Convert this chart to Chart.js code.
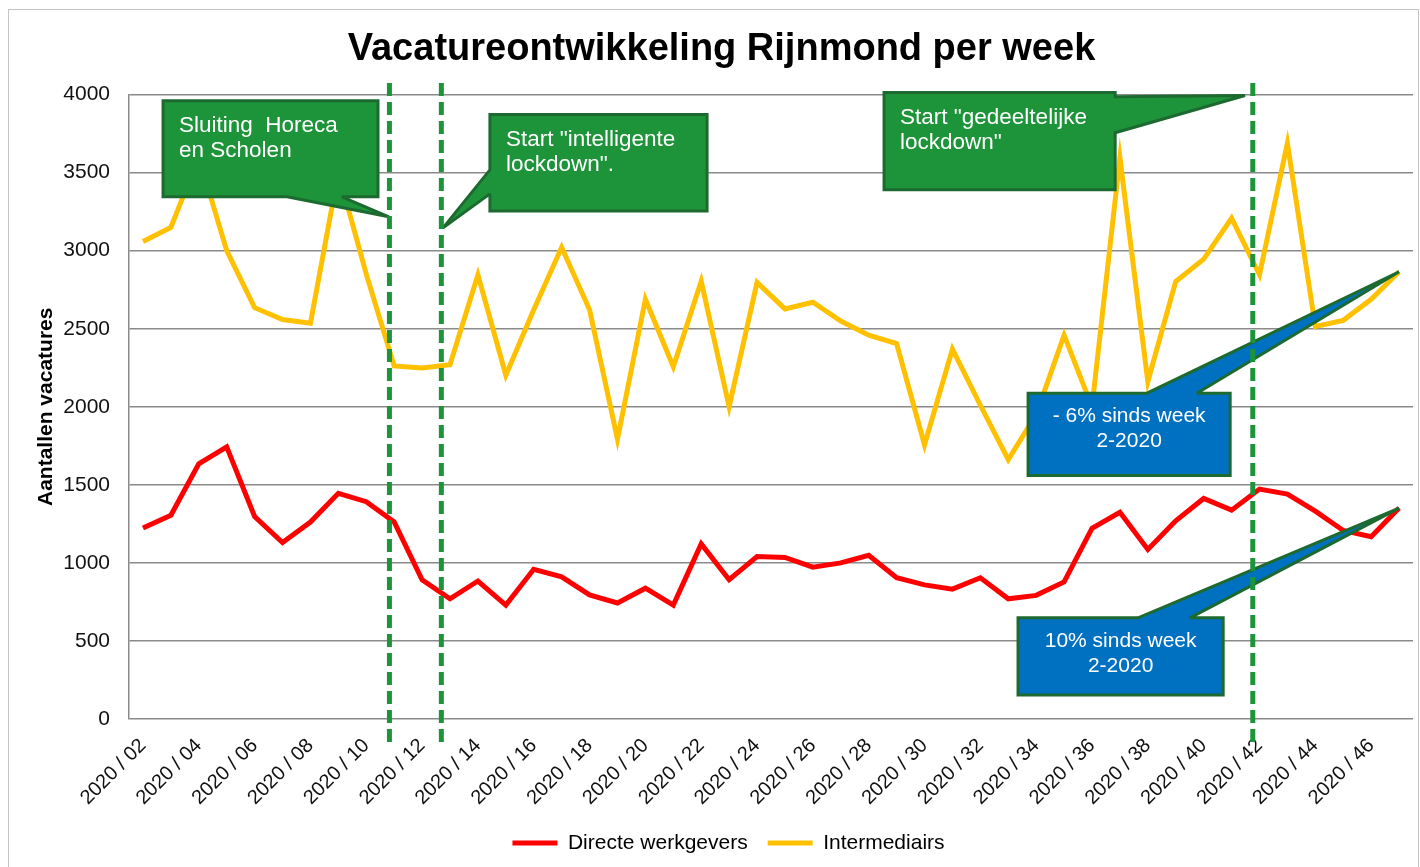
<!DOCTYPE html>
<html lang="nl">
<head>
    <meta charset="UTF-8">
    <title>Vacatureontwikkeling Rijnmond per week</title>
    <script src="https://cdn.jsdelivr.net/npm/chart.js"></script>
    <style>
        html, body { margin: 0; padding: 0; background: #fff; }
        #wrap { width: 1420px; height: 867px; }
    </style>
</head>
<body>
    <div id="wrap"><canvas id="vacChart" width="1420" height="867"></canvas></div>

    <script>
        // weeks 2020/02 t/m 2020/47
        var weeks = ['2020 / 02', '2020 / 03', '2020 / 04', '2020 / 05', '2020 / 06', '2020 / 07', '2020 / 08', '2020 / 09',
            '2020 / 10', '2020 / 11', '2020 / 12', '2020 / 13', '2020 / 14', '2020 / 15', '2020 / 16', '2020 / 17',
            '2020 / 18', '2020 / 19', '2020 / 20', '2020 / 21', '2020 / 22', '2020 / 23', '2020 / 24', '2020 / 25',
            '2020 / 26', '2020 / 27', '2020 / 28', '2020 / 29', '2020 / 30', '2020 / 31', '2020 / 32', '2020 / 33',
            '2020 / 34', '2020 / 35', '2020 / 36', '2020 / 37', '2020 / 38', '2020 / 39', '2020 / 40', '2020 / 41',
            '2020 / 42', '2020 / 43', '2020 / 44', '2020 / 45', '2020 / 46', '2020 / 47'];

        var directeWerkgevers = [1224, 1305, 1635, 1743, 1297, 1130, 1262, 1446, 1392, 1262,
            892, 770, 884, 730, 959, 911, 795, 743, 838, 730,
            1122, 892, 1041, 1035, 973, 1000, 1049, 905, 859, 832,
            905, 770, 792, 878, 1222, 1324, 1086, 1270, 1413, 1338,
            1473, 1441, 1332, 1208, 1168, 1351];

        var intermediairs = [3059, 3149, 3600, 3000, 2635, 2559, 2535, 3500, 2850, 2262,
            2249, 2270, 2846, 2203, 2622, 3022, 2622, 1792, 2689, 2257,
            2805, 2000, 2797, 2627, 2670, 2549, 2459, 2405, 1757, 2370,
            2010, 1662, 1950, 2459, 2000, 3595, 2162, 2803, 2946, 3208,
            2846, 3689, 2514, 2554, 2689, 2865];

        var yTicks = [0, 500, 1000, 1500, 2000, 2500, 3000, 3500, 4000];

        var FONT = "'Liberation Sans', Arial, sans-serif";
        var GREEN = '#1e943a';
        var DARK_GREEN = '#1d6a30';
        var BLUE = '#0070c0';

        // maatregelen (week als decimaal, want de lijnen staan tussen de weken in)
        var markerWeeks = [10.83, 12.69, 41.76];

        // tekstballonnen, posities in week / aantal
        var callouts = [
            { lines: ['Sluiting  Horeca', 'en Scholen'], fill: GREEN, align: 'left', size: 22.5,
              x0: 2.72, x1: 10.42, y0: 3961, y1: 3345,
              tail: { edge: 'bottom', a: 7.16, b: 9.13, tip: [10.81, 3217] } },
            { lines: ['Start "intelligente', 'lockdown".'], fill: GREEN, align: 'left', size: 22.5,
              x0: 14.43, x1: 22.21, y0: 3872, y1: 3255,
              tail: { edge: 'left', a: 3364, b: 3518, tip: [12.75, 3146] } },
            { lines: ['Start "gedeeltelijke', 'lockdown"'], fill: GREEN, align: 'left', size: 22.5,
              x0: 28.55, x1: 36.83, y0: 4013, y1: 3390,
              tail: { edge: 'right', a: 3987, b: 3756, tip: [41.48, 3994] } },
            { lines: ['- 6% sinds week', '2-2020'], fill: BLUE, align: 'center', size: 21,
              x0: 33.71, x1: 40.95, y0: 2087, y1: 1560,
              tail: { edge: 'top', a: 37.97, b: 39.76, tip: [47, intermediairs[intermediairs.length - 1]] } },
            { lines: ['10% sinds week', '2-2020'], fill: BLUE, align: 'center', size: 21,
              x0: 33.35, x1: 40.70, y0: 648, y1: 154,
              tail: { edge: 'top', a: 37.65, b: 39.51, tip: [47, directeWerkgevers[directeWerkgevers.length - 1]] } }
        ];

        var annotations = {
            id: 'annotations',
            beforeDraw: function(chart) {
                var ctx = chart.ctx;
                ctx.save();
                ctx.fillStyle = '#fff';
                ctx.fillRect(0, 0, chart.width, chart.height);
                ctx.strokeStyle = '#c4c4c4';
                ctx.lineWidth = 1;
                ctx.strokeRect(8.5, 9.5, chart.width - 10, chart.height + 10);
                ctx.restore();
            },
            afterLayout: function(chart) {
                // titel en legenda staan in het origineel iets rechts van het midden
                chart.titleBlock.left += 11;
                chart.titleBlock.right += 11;
                chart.legend.left += 18;
                chart.legend.right += 18;
            },
            afterDatasetsDraw: function(chart) {
                var ctx = chart.ctx;
                var xs = chart.scales.x, ys = chart.scales.y;
                var px = function(w) { return xs.getPixelForValue(w - 2); };
                var py = function(v) { return ys.getPixelForValue(v); };

                ctx.save();
                callouts.forEach(function(c) {
                    var L = px(c.x0), R = px(c.x1), T = py(c.y0), B = py(c.y1);
                    var t = c.tail, tx = px(t.tip[0]), ty = py(t.tip[1]);
                    ctx.beginPath();
                    ctx.moveTo(L, T);
                    if (t.edge === 'top') {
                        ctx.lineTo(px(t.a), T); ctx.lineTo(tx, ty); ctx.lineTo(px(t.b), T);
                    }
                    ctx.lineTo(R, T);
                    if (t.edge === 'right') {
                        ctx.lineTo(R, py(t.a)); ctx.lineTo(tx, ty); ctx.lineTo(R, py(t.b));
                    }
                    ctx.lineTo(R, B);
                    if (t.edge === 'bottom') {
                        ctx.lineTo(px(t.b), B); ctx.lineTo(tx, ty); ctx.lineTo(px(t.a), B);
                    }
                    ctx.lineTo(L, B);
                    if (t.edge === 'left') {
                        ctx.lineTo(L, py(t.a)); ctx.lineTo(tx, ty); ctx.lineTo(L, py(t.b));
                    }
                    ctx.closePath();
                    ctx.fillStyle = c.fill;
                    ctx.fill();
                    ctx.lineWidth = 3;
                    ctx.lineJoin = 'miter';
                    ctx.miterLimit = 2;
                    ctx.strokeStyle = DARK_GREEN;
                    ctx.stroke();

                    ctx.fillStyle = '#fff';
                    ctx.font = c.size + 'px ' + FONT;
                    ctx.textBaseline = 'middle';
                    ctx.textAlign = c.align;
                    var tX = c.align === 'center' ? (L + R) / 2 : L + 16;
                    var tY = c.align === 'center' ? T + 23 : T + 25;
                    c.lines.forEach(function(line, i) {
                        ctx.fillText(line, tX, tY + i * 25);
                    });
                });

                // gestippelde lijnen voor de maatregelen
                ctx.strokeStyle = GREEN;
                ctx.lineWidth = 5;
                ctx.setLineDash([13, 6]);
                markerWeeks.forEach(function(w) {
                    var x = px(w);
                    ctx.beginPath();
                    ctx.moveTo(x, py(4075));
                    ctx.lineTo(x, py(-170));
                    ctx.stroke();
                });
                ctx.restore();
            }
        };

        var ctx = document.getElementById('vacChart').getContext('2d');
        var myChart = new Chart(ctx, {
            type: 'line',
            data: {
                labels: weeks,
                datasets: [{
                    label: 'Directe werkgevers',
                    data: directeWerkgevers,
                    borderColor: '#ff0000',
                    backgroundColor: '#ff0000',
                    borderWidth: 5,
                    pointRadius: 0,
                    tension: 0
                }, {
                    label: 'Intermediairs',
                    data: intermediairs,
                    borderColor: '#ffc000',
                    backgroundColor: '#ffc000',
                    borderWidth: 5,
                    pointRadius: 0,
                    tension: 0
                }]
            },
            options: {
                responsive: false,
                animation: false,
                layout: { padding: { left: 8, right: 7, top: 0, bottom: 3.5 } },
                plugins: {
                    title: {
                        display: true,
                        text: 'Vacatureontwikkeling Rijnmond per week',
                        color: '#000',
                        font: { family: FONT, size: 38, weight: 'bold' },
                        padding: { top: 27, bottom: 22 }
                    },
                    legend: {
                        position: 'bottom',
                        labels: {
                            color: '#000',
                            font: { family: FONT, size: 21 },
                            boxWidth: 45,
                            boxHeight: 5,
                            padding: 20,
                            generateLabels: function(chart) {
                                return Chart.defaults.plugins.legend.labels.generateLabels(chart).map(function(l) {
                                    l.lineWidth = 0;
                                    l.fillStyle = l.strokeStyle;
                                    return l;
                                });
                            }
                        }
                    },
                    tooltip: { enabled: false }
                },
                scales: {
                    x: {
                        offset: true,
                        grid: { display: false, drawTicks: false },
                        border: { display: false },
                        ticks: {
                            autoSkip: false,
                            minRotation: 45,
                            maxRotation: 45,
                            padding: 15,
                            color: '#111',
                            font: { family: FONT, size: 20 },
                            callback: function(val, idx) {
                                return idx % 2 === 0 ? this.getLabelForValue(val) : '';
                            }
                        },
                        afterFit: function(scale) {
                            scale.height = 93.5;
                            scale.paddingLeft = 0;
                            scale.paddingRight = 0;
                        }
                    },
                    y: {
                        min: 0,
                        max: 4000,
                        afterBuildTicks: function(scale) {
                            scale.ticks = yTicks.map(function(v) { return { value: v }; });
                        },
                        grid: { color: '#8a8a8a', lineWidth: 1.5, drawTicks: false },
                        border: { display: true, color: '#8a8a8a', width: 1.5 },
                        ticks: {
                            padding: 19,
                            color: '#111',
                            font: { family: FONT, size: 21 },
                            callback: function(v) { return String(v); }
                        },
                        title: {
                            display: true,
                            text: 'Aantallen vacatures',
                            color: '#000',
                            font: { family: FONT, size: 21, weight: 'bold' },
                            padding: { top: 26, bottom: 0 }
                        },
                        afterFit: function(scale) { scale.width = 121; }
                    }
                }
            },
            plugins: [annotations]
        });
    </script>
</body>
</html>
